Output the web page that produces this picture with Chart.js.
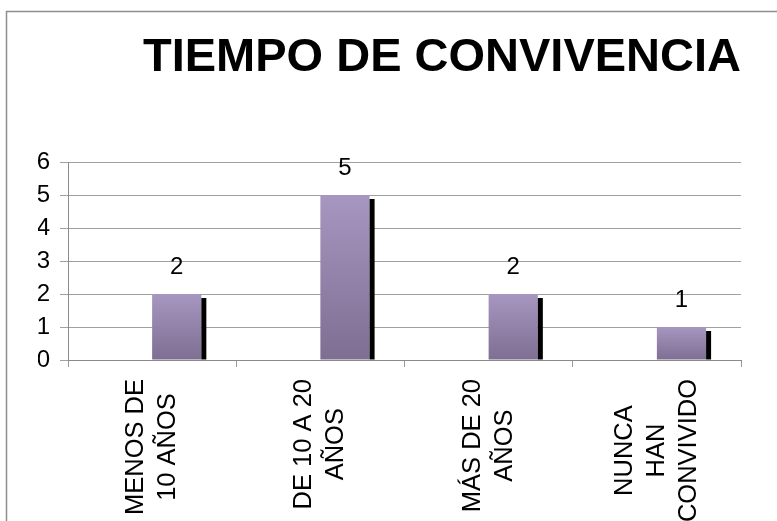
<!DOCTYPE html>
<html>
<head>
<meta charset="utf-8">
<script src="https://cdn.jsdelivr.net/npm/chart.js@4"></script>
<style>
  html, body { margin: 0; padding: 0; background: #ffffff; }
  #wrap { width: 777px; height: 521px; position: relative; }
</style>
</head>
<body>
<div id="wrap"><canvas id="c" width="777" height="521"></canvas></div>
<script>
// ---- data ----
const titleText = 'TIEMPO DE CONVIVENCIA';
const categories = [
  ['MENOS DE', '10 AÑOS'],
  ['DE 10 A 20', 'AÑOS'],
  ['MÁS DE 20', 'AÑOS'],
  ['NUNCA', 'HAN', 'CONVIVIDO']
];
const emptySeries = [null, null, null, null];
const values = [2, 5, 2, 1];
const yTicks = [0, 1, 2, 3, 4, 5, 6];

const FONT = '"Liberation Sans", Arial, sans-serif';

function barGradient(ctx) {
  const chart = ctx.chart;
  const { chartArea, scales } = chart;
  if (!chartArea || ctx.type !== 'data' || ctx.raw == null) return '#9686ad';
  const top = scales.y.getPixelForValue(ctx.raw);
  const bot = scales.y.getPixelForValue(0);
  const g = chart.ctx.createLinearGradient(0, top, 0, bot);
  g.addColorStop(0, '#a796c0');
  g.addColorStop(1, '#7e6e92');
  return g;
}

const framePlugin = {
  id: 'frame',
  beforeDraw(chart) {
    const c = chart.ctx;
    c.save();
    c.fillStyle = '#ffffff';
    c.fillRect(0, 0, chart.width, chart.height);
    c.strokeStyle = '#8e8e8e';
    c.lineWidth = 1.5;
    c.strokeRect(6.5, 11.5, 2000, 2000);
    c.restore();
  }
};

const barExtrasPlugin = {
  id: 'barExtras',
  afterDatasetsDraw(chart) {
    const c = chart.ctx;
    const meta = chart.getDatasetMeta(1);
    c.save();
    meta.data.forEach((el, i) => {
      const p = el.getProps(['x', 'y', 'base', 'width'], true);
      const right = p.x + p.width / 2;
      c.fillStyle = '#000000';
      c.fillRect(right, p.y + 4, 5, p.base - (p.y + 4));
      c.fillStyle = '#000000';
      c.font = '24px ' + FONT;
      c.textAlign = 'center';
      c.textBaseline = 'alphabetic';
      c.fillText(String(values[i]), p.x, p.y - 20);
    });
    c.restore();
  }
};

const xLabelPlugin = {
  id: 'xLabels',
  afterDraw(chart) {
    const c = chart.ctx;
    const xs = chart.scales.x;
    const y0 = 379;
    const lineH = 32;
    c.save();
    c.font = '25.5px ' + FONT;
    c.fillStyle = '#000000';
    c.textAlign = 'center';
    c.textBaseline = 'middle';
    categories.forEach((lines, i) => {
      const x = xs.getPixelForValue(i);
      const maxW = Math.max(...lines.map(l => c.measureText(l).width));
      c.save();
      c.translate(x, y0);
      c.rotate(-Math.PI / 2);
      lines.forEach((l, j) => {
        c.fillText(l, -maxW / 2, (j - (lines.length - 1) / 2) * lineH);
      });
      c.restore();
    });
    c.restore();
  }
};

new Chart(document.getElementById('c'), {
  type: 'bar',
  data: {
    labels: categories,
    datasets: [
      { label: 'Serie 0', data: emptySeries, backgroundColor: '#9686ad' },
      { label: 'Serie 1', data: values, backgroundColor: barGradient, borderWidth: 0 }
    ]
  },
  options: {
    responsive: false,
    animation: false,
    devicePixelRatio: 1,
    categoryPercentage: 0.585,
    barPercentage: 1.0,
    layout: { padding: { left: 38, right: 36, top: 0, bottom: 0 } },
    plugins: {
      legend: { display: false },
      tooltip: { enabled: false },
      title: {
        display: true,
        text: titleText,
        align: 'end',
        color: '#000000',
        font: { family: FONT, size: 47, weight: 'bold', lineHeight: 1.2 },
        padding: { top: 30, bottom: 75.6 }
      }
    },
    scales: {
      x: {
        grid: { drawOnChartArea: false, offset: true, drawTicks: true, tickLength: 7, color: '#9a9a9a' },
        border: { display: true, color: '#8a8a8a' },
        ticks: { display: false },
        afterFit(scale) { scale.height = 161; }
      },
      y: {
        min: 0,
        max: 6,
        afterBuildTicks(scale) { scale.ticks = yTicks.map(v => ({ value: v })); },
        grid: { color: '#a0a0a0', drawTicks: true, tickLength: 8 },
        border: { display: true, color: '#8a8a8a' },
        ticks: { color: '#000000', padding: 10, font: { family: FONT, size: 24 } },
        afterFit(scale) { scale.width = 30; }
      }
    }
  },
  plugins: [framePlugin, barExtrasPlugin, xLabelPlugin]
});
</script>
</body>
</html>
